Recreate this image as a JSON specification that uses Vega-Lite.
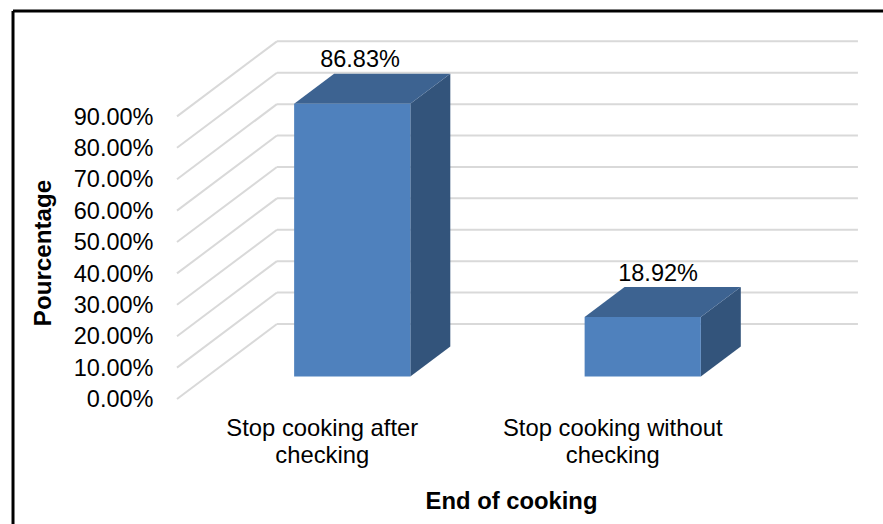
{
  "$schema": "https://vega.github.io/schema/vega-lite/v6.json",
  "width": 883,
  "height": 524,
  "padding": 0,
  "autosize": {"type": "none"},
  "background": "white",
  "view": {"stroke": null},
  "config": {"font": "Liberation Sans"},
  "params": [
    {"name": "depthX", "value": 0.344},
    {"name": "depthY", "value": 23.9},
    {"name": "nearDepth", "value": 0.3},
    {"name": "farDepth", "value": 0.7}
  ],
  "datasets": {
    "cooking": [
      {"category": "Stop cooking after\nchecking", "value": 86.83},
      {"category": "Stop cooking without\nchecking", "value": 18.92}
    ],
    "ticks": [
      {"tick": 0}, {"tick": 10}, {"tick": 20}, {"tick": 30}, {"tick": 40},
      {"tick": 50}, {"tick": 60}, {"tick": 70}, {"tick": 80}, {"tick": 90}
    ],
    "frame": [
      {"left": -0.5645, "right": 2.4303, "top": 123.57, "bottom": -39.81}
    ]
  },
  "layer": [
    {
      "data": {"name": "ticks"},
      "transform": [
        {"calculate": "0", "as": "sideStart"},
        {"calculate": "depthX", "as": "wallX"},
        {"calculate": "datum.tick + depthY", "as": "wallY"}
      ],
      "mark": {"type": "rule", "stroke": "#d9d9d9", "strokeWidth": 2},
      "encoding": {
        "x": {
          "field": "sideStart",
          "type": "quantitative",
          "title": "End of cooking",
          "scale": {"domain": [-0.6093, 2.4303], "nice": false, "zero": false},
          "axis": {
            "labels": false,
            "ticks": false,
            "domain": false,
            "grid": false,
            "titleFontSize": 23.8,
            "titleFontWeight": "bold",
            "titleColor": "black",
            "titleX": 511,
            "titleY": -23,
            "titleBaseline": "middle",
            "titleAlign": "center"
          }
        },
        "x2": {"field": "wallX"},
        "y": {
          "field": "tick",
          "type": "quantitative",
          "title": "Pourcentage",
          "scale": {"domain": [-39.81, 127.07], "nice": false, "zero": false},
          "axis": {
            "values": [0, 10, 20, 30, 40, 50, 60, 70, 80, 90],
            "labelExpr": "format(datum.value, '.2f') + '%'",
            "offset": -177,
            "labelPadding": 24,
            "labelOffset": 0.8,
            "labelFontSize": 23.5,
            "labelColor": "black",
            "labelOverlap": false,
            "ticks": false,
            "domain": false,
            "grid": false,
            "titleFontSize": 24.2,
            "titleFontWeight": "bold",
            "titleColor": "black",
            "titleAngle": -90,
            "titleX": -134,
            "titleY": 252.5,
            "titleBaseline": "middle",
            "titleAlign": "center"
          }
        },
        "y2": {"field": "wallY"}
      }
    },
    {
      "data": {"name": "ticks"},
      "transform": [
        {"calculate": "depthX", "as": "wallStart"},
        {"calculate": "2 + depthX", "as": "wallEnd"},
        {"calculate": "datum.tick + depthY", "as": "wallY"}
      ],
      "mark": {"type": "rule", "stroke": "#d9d9d9", "strokeWidth": 2},
      "encoding": {
        "x": {"field": "wallStart", "type": "quantitative", "title": "End of cooking"},
        "x2": {"field": "wallEnd"},
        "y": {"field": "wallY", "type": "quantitative", "title": "Pourcentage"}
      }
    },
    {
      "data": {"name": "cooking"},
      "transform": [
        {"window": [{"op": "row_number", "as": "rank"}]},
        {"calculate": "datum.rank - 1", "as": "slot"},
        {"calculate": "format(datum.value, '.2f') + '%'", "as": "label"}
      ],
      "layer": [
        {
          "transform": [
            {"calculate": "[nearDepth, farDepth]", "as": "depth"},
            {"flatten": ["depth"]},
            {"calculate": "datum.slot + 0.7 + datum.depth * depthX", "as": "edgeX"},
            {"calculate": "datum.value + datum.depth * depthY", "as": "edgeTop"},
            {"calculate": "datum.depth * depthY", "as": "edgeBase"}
          ],
          "mark": {"type": "area", "color": "#33547b"},
          "encoding": {
            "x": {"field": "edgeX", "type": "quantitative", "title": "End of cooking"},
            "y": {"field": "edgeTop", "type": "quantitative", "title": "Pourcentage"},
            "y2": {"field": "edgeBase"},
            "detail": {"field": "category", "type": "nominal"}
          }
        },
        {
          "transform": [
            {"calculate": "[nearDepth, farDepth]", "as": "depth"},
            {"flatten": ["depth"]},
            {"calculate": "datum.slot + 0.3 + datum.depth * depthX", "as": "edgeLeft"},
            {"calculate": "datum.slot + 0.7 + datum.depth * depthX", "as": "edgeRight"},
            {"calculate": "datum.value + datum.depth * depthY", "as": "edgeY"}
          ],
          "mark": {"type": "area", "orient": "horizontal", "color": "#3d6391"},
          "encoding": {
            "y": {"field": "edgeY", "type": "quantitative", "title": "Pourcentage"},
            "x": {"field": "edgeLeft", "type": "quantitative", "title": "End of cooking"},
            "x2": {"field": "edgeRight"},
            "detail": {"field": "category", "type": "nominal"}
          }
        },
        {
          "transform": [
            {"calculate": "datum.slot + 0.3 + nearDepth * depthX", "as": "faceLeft"},
            {"calculate": "datum.slot + 0.7 + nearDepth * depthX", "as": "faceRight"},
            {"calculate": "datum.value + nearDepth * depthY", "as": "faceTop"},
            {"calculate": "nearDepth * depthY", "as": "faceBase"}
          ],
          "mark": {"type": "rect", "color": "#4f81bd"},
          "encoding": {
            "x": {"field": "faceLeft", "type": "quantitative", "title": "End of cooking"},
            "x2": {"field": "faceRight"},
            "y": {"field": "faceTop", "type": "quantitative", "title": "Pourcentage"},
            "y2": {"field": "faceBase"}
          }
        },
        {
          "transform": [
            {"calculate": "0.63 + datum.slot * 1.026", "as": "labelX"},
            {"calculate": "datum.value + 21", "as": "labelY"}
          ],
          "mark": {"type": "text", "fontSize": 23.5, "color": "black", "baseline": "middle", "align": "center"},
          "encoding": {
            "x": {"field": "labelX", "type": "quantitative", "title": "End of cooking"},
            "y": {"field": "labelY", "type": "quantitative", "title": "Pourcentage"},
            "text": {"field": "label", "type": "nominal"}
          }
        },
        {
          "transform": [
            {"calculate": "datum.slot + 0.5", "as": "labelX"},
            {"calculate": "-9.5", "as": "labelY"}
          ],
          "mark": {"type": "text", "fontSize": 23.8, "color": "black", "baseline": "middle", "align": "center", "lineBreak": "\n", "lineHeight": 27},
          "encoding": {
            "x": {"field": "labelX", "type": "quantitative", "title": "End of cooking"},
            "y": {"field": "labelY", "type": "quantitative", "title": "Pourcentage"},
            "text": {"field": "category", "type": "nominal"}
          }
        }
      ]
    },
    {
      "data": {"name": "frame"},
      "mark": {"type": "rule", "stroke": "black", "strokeWidth": 3},
      "encoding": {
        "x": {"field": "left", "type": "quantitative", "title": "End of cooking"},
        "y": {"field": "top", "type": "quantitative", "title": "Pourcentage"},
        "y2": {"field": "bottom"}
      }
    },
    {
      "data": {"name": "frame"},
      "mark": {"type": "rule", "stroke": "black", "strokeWidth": 3},
      "encoding": {
        "x": {"field": "left", "type": "quantitative", "title": "End of cooking"},
        "x2": {"field": "right"},
        "y": {"field": "top", "type": "quantitative", "title": "Pourcentage"}
      }
    }
  ]
}
